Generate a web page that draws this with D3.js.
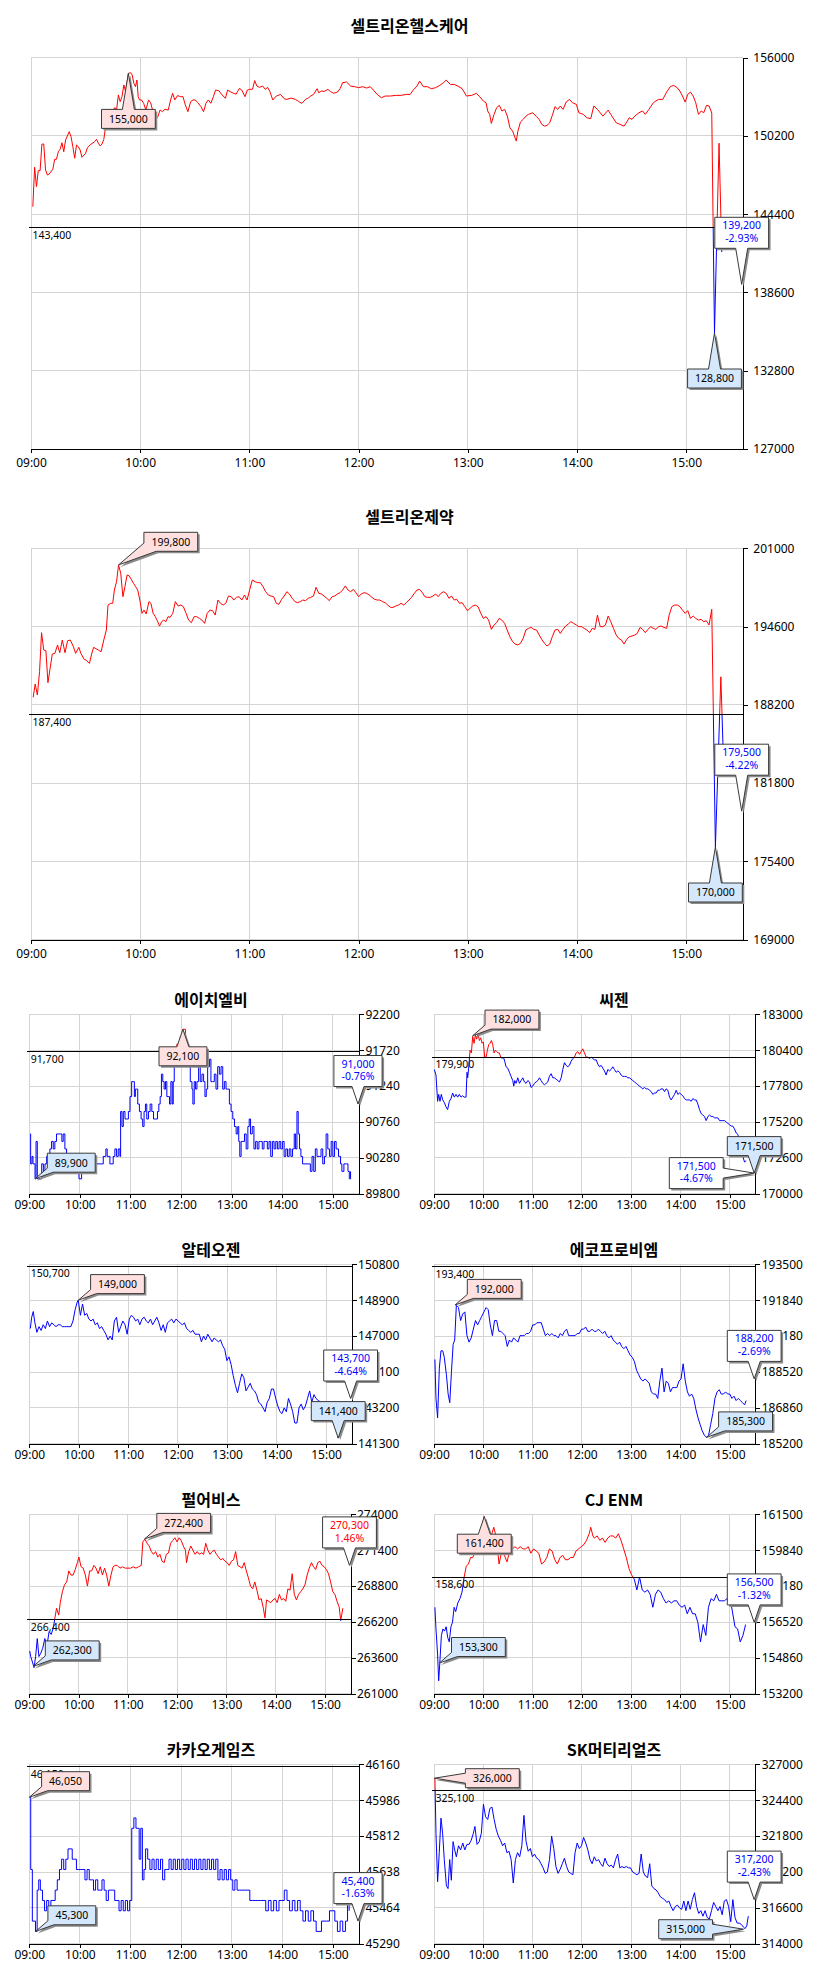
<!DOCTYPE html>
<html>
<head>
<meta charset="utf-8">
<script src="https://cdn.jsdelivr.net/npm/d3@7"></script>
<style>
  body { margin: 0; background: #fff; }
  svg text { font-family: "Noto Sans", sans-serif; }
  .title { font-family: "Noto Sans CJK KR", sans-serif; font-weight: bold; font-size: 16px; }
</style>
</head>
<body>
<svg id="chart" width="833" height="1970"></svg>
<script>
// x axis: minutes after 09:00, right edge of the plot is 15:31
var hourLabels = ["09:00", "10:00", "11:00", "12:00", "13:00", "14:00", "15:00"];
var sessionEnd = 391;

var names = ["셀트리온헬스케어", "셀트리온제약", "에이치엘비", "씨젠", "알테오젠", "에코프로비엠", "펄어비스", "CJ ENM", "카카오게임즈", "SK머티리얼즈"];
var prevClose = [143400, 187400, 91700, 179900, 150700, 193400, 266400, 158600, 46150, 325100];
var closePrice = [139200, 179500, 91000, 171500, 143700, 188200, 270300, 156500, 45400, 317200];
var closePct = ["-2.93%", "-4.22%", "-0.76%", "-4.67%", "-4.64%", "-2.69%", "1.46%", "-1.32%", "-1.63%", "-2.43%"];

// callouts: where the pointer touches the line [minute, price], and the printed value
var highTip = [[53.5, 154840], [48.1, 199640], [182.2, 92000], [47.1, 181450], [59.4, 148900], [25.6, 191620], [140.2, 272210], [61.2, 161390], [0, 46000], [0.5, 325990]];
var highLabel = [155000, 199800, 92100, 182000, 149000, 192000, 272400, 161400, 46050, 326000];
var lowTip = [[375.5, 135600], [376, 176580], [6.8, 90000], [391, 171500], [374.8, 141600], [331.5, 185490], [4.5, 262980], [6.3, 154620], [7.5, 45350], [376.8, 315060]];
var lowLabel = [128800, 170000, 89900, 171500, 141400, 185300, 262300, 153300, 45300, 315000];

var yTicks = [
  [127000, 132800, 138600, 144400, 150200, 156000],
  [169000, 175400, 181800, 188200, 194600, 201000],
  [89800, 90280, 90760, 91240, 91720, 92200],
  [170000, 172600, 175200, 177800, 180400, 183000],
  [141300, 143200, 145100, 147000, 148900, 150800],
  [185200, 186860, 188520, 190180, 191840, 193500],
  [261000, 263600, 266200, 268800, 271400, 274000],
  [153200, 154860, 156520, 158180, 159840, 161500],
  [45290, 45464, 45638, 45812, 45986, 46160],
  [314000, 316600, 319200, 321800, 324400, 327000]
];

// intraday prices [minute, price]
var hcPrice = [[1,144960],[2,147880],[3,146440],[4,147630],[5,147630],[6,149600],[7,149600],[8,147680],[9,147310],[10,147380],[12,147730],[13,148470],[14,148470],[15,149030],[16,149210],[17,149700],[18,149030],[19,149900],[21,150520],[22,150150],[23,149400],[24,148550],[25,149530],[26,149400],[27,149160],[28,148620],[30,148910],[31,149330],[32,149460],[33,149600],[35,149780],[36,149950],[37,149660],[38,149460],[39,149600],[40,149950],[41,150890],[42,151630],[44,151900],[46,152300],[47,152120],[48,153240],[49,152740],[50,153110],[51,153980],[52,153480],[53.5,154840],[54.7,154890],[55.6,154720],[56.5,154100],[57.4,153850],[58.2,154350],[58.9,153110],[59.6,152870],[60.7,152870],[61.9,152620],[63.1,152120],[64.6,152870],[65.7,152670],[66.8,152120],[68.2,151380],[69.7,151630],[70.9,152120],[72.2,152000],[73.6,152180],[75.4,152120],[76.7,152870],[77.8,153360],[79,152870],[80.5,153190],[82.3,153110],[83.5,153110],[84.8,152500],[86.2,152000],[87.7,152740],[89,152870],[90.2,152870],[91.6,152670],[93.4,152370],[94.8,152000],[96.1,152620],[97.4,152870],[98.8,152620],[100.2,153110],[101.4,153600],[103.2,153550],[105,153240],[106.8,152990],[108,153600],[109.5,153480],[111.3,153360],[112.7,153300],[114.5,153730],[115.8,153600],[117.6,153110],[118.8,153600],[120.2,153660],[121.7,153660],[122.9,154300],[124.1,153900],[125.5,153800],[127.3,153900],[128.7,153660],[130,153800],[131.3,153480],[132.8,152870],[134.8,153160],[137.1,153280],[139.1,152960],[140.6,152910],[142.9,153010],[145.3,152910],[147,152760],[148.8,152610],[150.8,152910],[152.3,153010],[153.7,153160],[155.2,153280],[157.2,153700],[158.1,153400],[159.6,153530],[161,153500],[163.1,153650],[164.5,153500],[166.3,153360],[168.3,153450],[169.8,153700],[171.2,154150],[173.3,154200],[175.6,153900],[177.9,153850],[180,153780],[182.3,153850],[184.4,153750],[186.4,153850],[188.1,153600],[190.2,153280],[192.5,153030],[194.6,153160],[197.5,153160],[200.4,153210],[203.3,153210],[206.2,153280],[208.3,153280],[210,153600],[212.1,153900],[213.5,154270],[215.6,153850],[217.9,153850],[219.9,153700],[222.3,153780],[224.6,153950],[226.6,154150],[228.1,154340],[230.4,154020],[232.5,154020],[234.5,153900],[236.9,153700],[239.2,153160],[242.1,153210],[244.7,153360],[246.5,153110],[248.5,152790],[250,152660],[250.9,152050],[252,151800],[252.9,151130],[254.4,151800],[255.8,152290],[257.3,152470],[258.7,152050],[260.2,152170],[261.7,151670],[263.1,150810],[264.6,150560],[266.6,149820],[267.5,150560],[268.9,151230],[270.4,151430],[271.9,151670],[273.3,151800],[275.7,151920],[277.7,151630],[279.2,151430],[280.6,151060],[282.1,150930],[283.5,150980],[285,151180],[286.4,151720],[287.9,152370],[289.4,152170],[290.8,152420],[292.3,152170],[294,152710],[295.8,152910],[297.5,152660],[299.6,152540],[301,151920],[303.4,151800],[305.4,151550],[307.5,151480],[309.2,152420],[311.2,152170],[314.2,151670],[317.1,152120],[318.5,151800],[321.5,151180],[323.5,151060],[325.8,150930],[327.3,151230],[328.7,151550],[330.2,151430],[331.7,151670],[334,151920],[336,152050],[337.5,151800],[339.5,152170],[341.9,152660],[343.3,152790],[344.8,152910],[347.1,152910],[349.2,153450],[351.2,153850],[353,153950],[355,153780],[356.5,153530],[357.9,153160],[359.4,152710],[360.8,153280],[362.3,153450],[363.8,153160],[365.2,152660],[366.7,151800],[368.2,152050],[369.6,151920],[371.1,152470],[372.5,152420],[373.4,152120],[374,151900],[375.5,135600],[378,149660],[379.5,141600]];

var ctPrice = [[1.2,188810],[2.3,189900],[3.5,189000],[4.7,190910],[5.8,194100],[7,192680],[8.2,192620],[9.3,190010],[10.5,191180],[11.7,192350],[13.1,192410],[14.6,193090],[15.8,192460],[17.2,193500],[18.7,192460],[20.1,193440],[21.6,193500],[23.3,192950],[24.5,192410],[26.3,192900],[27.4,192410],[29.2,191920],[30.3,191860],[32.1,191590],[33.3,192350],[34.4,192900],[37,192680],[38.5,192540],[40,193500],[41.4,194320],[42.3,196360],[43.8,196500],[44.9,196500],[45.8,197590],[47,198270],[48.1,199640],[49.3,198950],[50.5,197040],[51.6,197860],[52.8,198820],[54,198740],[55.1,198460],[56.3,198140],[57.5,197860],[58.6,197590],[59.8,196770],[61,195680],[62.1,195950],[63.3,195630],[64.8,196640],[65.9,196500],[67.1,195680],[68.3,195410],[69.4,195080],[70.6,194640],[71.8,195000],[72.9,195130],[74.1,195000],[75.3,195410],[76.4,195350],[77.9,195680],[79.3,196640],[80.8,196280],[82.3,196360],[83.7,196230],[85.2,195680],[86.6,195130],[88.1,194920],[89.6,195410],[91,195410],[92.5,195270],[93.9,195130],[95.4,194860],[96.8,195680],[98.3,195950],[99.8,195900],[101.2,195540],[102.7,196770],[104.1,196500],[105.6,196360],[107,196500],[108.5,197100],[110,197040],[111.4,196770],[112.9,196990],[114.3,197040],[115.8,196770],[117.3,197180],[118.7,196770],[120.2,197640],[121.6,198410],[123.1,198270],[124.6,198190],[126,198190],[127.5,197860],[128.9,197450],[130.4,197180],[131.8,197100],[133.3,197040],[134.8,196500],[136.2,196420],[137.7,196830],[139.1,197100],[140.6,197450],[142,197260],[143.5,196910],[145,196640],[146.4,196550],[147.9,196640],[149.3,196770],[150.8,196720],[152.3,196910],[153.7,196990],[155.2,197100],[156.6,197810],[158.1,197320],[159.6,197260],[161,197100],[162.5,196910],[163.9,196720],[165.4,197040],[166.9,197100],[168.3,197260],[169.8,197370],[171.2,197590],[172.7,197920],[174.1,197590],[175.6,197450],[177.1,197640],[178.5,197370],[180,197040],[181.4,197260],[182.9,197370],[184.4,197320],[185.8,197180],[187.3,196990],[188.7,196830],[190.2,196770],[191.6,196770],[193.1,196640],[194.6,196550],[196,196360],[197.5,196170],[198.9,196170],[200.4,196280],[201.9,196360],[203.3,196500],[204.8,196360],[206.2,196550],[207.7,196770],[209.1,196990],[210.6,197320],[212.1,197590],[213.5,197640],[215,197370],[216.4,197040],[217.9,196990],[219.4,196990],[220.8,197100],[222.3,197260],[223.7,197040],[225.2,197320],[226.7,197450],[228.1,197320],[229.6,196910],[231,197100],[232.5,196770],[233.9,196830],[235.4,196500],[236.9,196550],[238.3,196230],[239.8,195900],[241.2,196090],[242.7,196280],[244.1,196360],[245.6,196230],[247.1,195680],[248.5,195270],[250,195410],[251.4,195130],[252.9,194370],[254.4,194730],[255.8,194920],[257.3,195270],[258.7,195130],[260.2,194860],[261.6,194320],[263.1,193770],[264.6,193360],[266,193170],[267.5,193090],[268.9,193230],[270.4,193630],[271.9,194320],[273.3,194450],[274.8,194530],[276.2,194370],[277.7,194320],[279.2,193910],[280.6,193550],[282.1,193230],[283.5,193010],[285,193170],[286.4,193770],[287.9,194320],[289.4,194370],[290.8,194040],[292.3,194370],[293.7,194640],[295.2,194810],[296.6,195000],[298.1,194860],[299.6,194730],[301,194590],[302.5,194590],[303.9,194450],[305.4,194320],[306.9,194100],[308.3,194450],[309.8,194370],[311.2,195540],[312.7,194590],[314.2,194590],[315.6,194730],[317.1,195460],[318.5,195000],[320,194450],[321.5,193910],[322.9,193630],[324.4,193500],[325.8,193170],[327.3,193550],[328.7,193770],[330.2,193830],[331.7,193910],[333.1,194040],[334.6,194530],[336,194370],[337.5,194100],[339,194370],[340.4,194590],[341.9,194450],[343.3,194370],[344.8,194590],[346.2,194640],[347.7,194530],[349.2,194450],[350.6,195540],[352.1,196230],[353.5,196360],[355,196360],[356.5,196230],[357.9,195950],[359.4,195680],[360.8,195900],[362.3,195270],[363.8,195460],[365.2,195270],[366.7,195130],[368.1,195190],[369.6,195000],[371,195080],[372.5,194730],[374,196010],[376,176580],[379,190490],[380.5,183260]];

var hlbPrice = [[0.8,90600],[1.6,90200],[3.2,90300],[4.4,90200],[6.8,90000],[8,90500],[9.5,90000],[11.1,90000],[12.7,90000],[14.7,90200],[16.7,90100],[18.6,90200],[20.6,90300],[22.9,90300],[24.4,90400],[26.4,90500],[28.4,90400],[30.3,90500],[32.3,90600],[34.3,90600],[37,90600],[38.6,90500],[40.2,90600],[42.2,90400],[44.2,90300],[50,90200],[56,90200],[58.9,90000],[62,90200],[68,90200],[76,90300],[79.8,90200],[83.7,90200],[87.7,90300],[90.8,90400],[92.4,90300],[95.6,90200],[99.5,90300],[101.5,90400],[103.5,90300],[105.5,90400],[107.5,90300],[108.3,90900],[109.9,90700],[111.5,90900],[113.5,90800],[115.5,90800],[117.5,90900],[119.4,91100],[121.4,91300],[123.4,91300],[124.6,91100],[125.8,91200],[127.4,91200],[128.6,91000],[130.6,90900],[132.6,90800],[134.5,90700],[136.1,90900],[137.7,91000],[139.3,90800],[141.3,90900],[143.3,91000],[145.3,90900],[147.3,90800],[149.6,90800],[152,90900],[153.6,91000],[155.2,91100],[156.7,91400],[158.3,91300],[159.9,91200],[161.5,91300],[163.1,91100],[164.7,91100],[166.3,91000],[167.9,91300],[169.5,91000],[170.7,91300],[171.9,91500],[173,91700],[175,91800],[179,91900],[182.2,92000],[185.3,91800],[188.9,91600],[190.9,91300],[192.9,91200],[194,91000],[195.6,91300],[197.2,91200],[198.8,91300],[200.8,91500],[202.7,91300],[204.7,91400],[206.7,91300],[208.3,91100],[209.9,91200],[211.5,91500],[213.8,91600],[215.4,91300],[217.4,91300],[219.4,91400],[221.4,91200],[223.4,91500],[225.4,91400],[227.4,91500],[229.4,91200],[231.3,91300],[233.3,91200],[235.3,91200],[237.3,91000],[239.3,90900],[241.3,90800],[243.3,90700],[245.3,90600],[247.2,90700],[248.4,90500],[249.6,90300],[251.2,90500],[253.2,90500],[255.2,90600],[257.2,90400],[259.2,90700],[260.8,90800],[262.4,90600],[264.4,90700],[266.4,90400],[268.4,90500],[270.3,90400],[272.3,90500],[274.3,90500],[276.3,90400],[278.3,90500],[280.3,90500],[282.3,90400],[284.3,90500],[286.3,90300],[288.3,90500],[290.3,90400],[292.3,90500],[294.2,90400],[296.2,90500],[298.2,90400],[300.2,90500],[302.2,90300],[304.2,90400],[306.2,90300],[308.2,90400],[310.2,90300],[312.2,90400],[314.2,90600],[315.8,90400],[317.4,90900],[318.9,90600],[320.5,90400],[322.1,90300],[324.1,90200],[328.1,90200],[330.9,90200],[333.3,90100],[335.3,90300],[337.3,90100],[339.2,90400],[341.2,90300],[344,90300],[346,90400],[348,90200],[350,90300],[352,90600],[354,90400],[356,90300],[358,90500],[360,90300],[362,90500],[363.9,90400],[366.7,90300],[369.1,90200],[370.7,90100],[373.1,90200],[375.9,90200],[377.9,90100],[379.5,90000],[381,90100]];

var sgPrice = [[0.4,179000],[2.4,178600],[4.4,176700],[5.7,177200],[7.3,176700],[8.9,177200],[10.6,176800],[12.6,176600],[14.6,176300],[16.6,176100],[18.7,176700],[20.7,176900],[22.7,177300],[24.7,177000],[26.8,177200],[28.8,177000],[30.8,177200],[32.9,177000],[34.9,177100],[36.9,177000],[39,177000],[40.2,178800],[41,178400],[42.2,179100],[43.9,180400],[45.5,180200],[47.1,181400],[48.7,180900],[50.4,181500],[52,181200],[53.6,181600],[55.3,181100],[56.9,181300],[58.5,180900],[60.1,181000],[61.7,179900],[63.4,179900],[65,180400],[66.6,180800],[68.2,180900],[69.9,181100],[71.5,180800],[73.1,180200],[74.7,180400],[76.4,180300],[78,180200],[79.6,180200],[81.2,179900],[82.9,179800],[84.5,179900],[86.1,179600],[87.7,179200],[89.8,179100],[91.8,178800],[93.8,178500],[95.9,178200],[97.1,177800],[98.3,178200],[99.9,178000],[102,178400],[104,178000],[106,178200],[108.1,178400],[110.1,178100],[112.1,178000],[114.2,178200],[116.2,178100],[118.2,177700],[120.2,177800],[122.3,178000],[124.3,178100],[126.3,178200],[128.4,178400],[130.4,178200],[132.4,178000],[134.5,177900],[136.5,178000],[138.5,178100],[140.5,178500],[142.6,178700],[144.6,178400],[146.6,178400],[148.7,178300],[150.7,178200],[152.7,178100],[154.8,178400],[156.8,179000],[158.8,179500],[160.8,179300],[162.9,179200],[164.9,179300],[166.9,179600],[169,179800],[171,179900],[173,180200],[175,180300],[177.1,180100],[179.1,180300],[181.1,180500],[183.2,180200],[185.2,179900],[187.2,179900],[189.3,179800],[191.3,179900],[193.3,179800],[195.3,179700],[197.4,179700],[199.4,179400],[201.4,179200],[203.5,179300],[205.5,179100],[207.5,178900],[209.6,178600],[211.6,179000],[213.6,178900],[215.6,179000],[217.7,179200],[219.7,179000],[221.7,178800],[223.8,178900],[225.8,178800],[227.8,178600],[229.9,178500],[231.9,178500],[233.9,178500],[235.9,178400],[238,178400],[240,178300],[242,178200],[244.1,178100],[246.1,178000],[248.1,177900],[250.1,177800],[252.2,177700],[254.2,177600],[256.2,177700],[258.3,177600],[260.3,177600],[262.3,177500],[264.4,177400],[266.4,177200],[268.4,177300],[270.4,177300],[272.5,177500],[274.5,177500],[276.5,177600],[278.6,177600],[280.6,177400],[282.6,177600],[284.7,177500],[286.7,177000],[288.7,176800],[290.7,177000],[292.8,177200],[294.8,177500],[296.8,177200],[298.9,177300],[300.9,177200],[302.9,177100],[305,176900],[307,176800],[309,176800],[311,176800],[313.1,176700],[315.1,176900],[317.1,176800],[319.2,176800],[321.2,176500],[323.2,176100],[325.3,175800],[327.3,175700],[329.3,175600],[331.3,175300],[333.4,175600],[335.4,175700],[337.4,175600],[339.5,175600],[341.5,175500],[343.5,175500],[345.5,175500],[347.6,175300],[349.6,175300],[351.6,175300],[353.7,175300],[355.7,175200],[357.7,175100],[359.8,175000],[361.8,174900],[363.8,174900],[365.8,174700],[367.9,174400],[369.9,174300],[371.9,173800],[373.9,173400],[376,172700],[378,172300],[380,172400]];

var atPrice = [[1.2,147400],[2.9,148000],[4.8,148300],[6.8,147700],[9.2,147200],[11.8,147500],[14.3,147300],[16.9,147600],[19.5,147400],[22,147800],[24.6,147500],[27.2,147700],[29.8,147600],[32.4,147500],[35,147600],[37.5,147600],[40.1,147500],[42.7,147500],[45.3,147500],[47.9,147500],[50.4,147500],[53,147800],[55.6,148400],[58.1,148800],[59.4,148900],[62,148100],[64.6,148700],[67.2,148100],[69.7,148200],[72.3,147900],[74.9,147800],[77.4,147900],[80,147600],[82.6,147700],[85.2,147400],[87.8,147500],[90.3,147300],[92.9,147100],[95.5,146800],[98.1,147000],[100.6,146800],[103.2,147800],[105.8,148000],[108.4,147200],[110.9,147500],[113.5,147800],[116.1,147600],[118.7,147100],[121.3,147900],[123.8,148100],[126.4,148000],[129,147800],[131.6,147900],[134.1,147600],[136.7,147900],[139.3,148000],[141.9,147800],[144.4,147700],[147,147900],[149.6,147600],[152.2,147800],[154.7,148000],[157.3,147700],[159.9,147300],[162.5,147600],[165,147200],[167.6,147700],[170.2,147800],[172.7,147900],[175.3,147700],[177.9,147900],[180.5,147800],[183,147700],[185.6,147600],[188.2,147700],[190.8,147400],[193.3,147300],[195.9,147200],[198.5,147300],[201.1,147100],[203.6,147100],[206.2,147100],[208.8,146700],[211.4,147000],[213.9,146800],[216.5,147100],[219.1,146900],[221.7,146700],[224.2,146900],[226.8,146800],[229.4,146700],[232,146800],[234.5,146500],[237.1,146300],[239.7,145700],[242.3,145900],[244.8,145500],[247.4,144900],[250,144400],[252.6,144000],[255.1,144500],[257.7,145000],[260.3,144800],[262.9,144100],[265.4,144300],[268,144500],[270.6,144200],[273.2,144100],[275.7,143900],[278.3,143500],[280.9,143400],[283.5,143200],[286,143000],[288.6,143500],[291.2,143700],[293.8,144200],[296.3,144200],[298.9,143700],[301.5,143300],[304.1,143000],[306.6,142900],[309.2,143200],[311.8,143000],[314.4,143700],[316.9,143400],[319.5,143000],[322.1,142400],[324.7,142400],[327.2,143200],[329.8,143400],[332.4,143100],[335,143300],[337.5,143700],[340.1,144100],[342.7,143500],[345.3,143900],[347.8,143700],[350.4,143600],[360,143300],[370,143100],[374.8,141600]];

var epPrice = [[1.1,189100],[2.4,187300],[4.4,186400],[6.5,188700],[8.5,189500],[10.6,189500],[12.5,189200],[15.1,188400],[17.2,187500],[19.2,187100],[21.2,188500],[23.3,189800],[25.2,190000],[27.2,191600],[29.8,191500],[32.4,190900],[35,191200],[37.6,191300],[40.1,190200],[42.7,189900],[45.3,190100],[47.9,190500],[50.5,190900],[53.1,190700],[55.6,190900],[58.2,191100],[60.8,191300],[63.4,191500],[66,191400],[68.5,190700],[71.1,190200],[73.7,190900],[76.3,190900],[78.9,190400],[81.4,190400],[84,190300],[86.6,190200],[89.2,189700],[91.8,190000],[94.4,189900],[96.9,190100],[99.5,190000],[102.1,189900],[104.7,190200],[107.3,190200],[109.8,190200],[112.4,190300],[115,190300],[117.6,190400],[120.2,190700],[122.8,190700],[125.3,190800],[127.9,190800],[130.5,190800],[133.1,190500],[135.6,190200],[138.2,190300],[140.8,190200],[143.4,190300],[146,190200],[148.5,190200],[151.1,190100],[153.7,190300],[156.3,190200],[158.9,190400],[161.4,190500],[164,190200],[166.6,190200],[169.2,190200],[171.8,190200],[174.3,190300],[176.9,190300],[179.5,190500],[182.1,190500],[184.6,190600],[187.2,190400],[189.8,190400],[192.4,190500],[195,190400],[197.5,190400],[200.1,190500],[202.7,190400],[205.3,190300],[207.9,190400],[210.4,190200],[213,190100],[215.6,190200],[218.2,190000],[220.8,189900],[223.3,189800],[225.9,189900],[228.5,189700],[231.1,189600],[233.7,189700],[236.2,189500],[238.8,189300],[241.4,189200],[244,189000],[246.6,188600],[249.1,188400],[251.7,188200],[254.3,188100],[256.9,188200],[259.5,188100],[262,188000],[264.6,187600],[267.2,187500],[269.8,187500],[272.4,187300],[274.9,188100],[277.5,188700],[280.1,187600],[282.7,188100],[285.3,188000],[287.8,187600],[290.4,187800],[293,187800],[295.6,187800],[298.2,188100],[300.7,188200],[303.3,188900],[305.9,188100],[308.5,187600],[311,187400],[313.6,187500],[316.2,187300],[318.8,186800],[321.4,186400],[323.9,186100],[326.5,185800],[329.1,185600],[331.7,185500],[334.3,185600],[336.8,186100],[339.4,186600],[342,187300],[344.6,187600],[347.2,187700],[349.7,187500],[352.3,187500],[354.9,187600],[357.5,187500],[360.1,187500],[362.6,187300],[365.2,187400],[367.8,187200],[370.4,187300],[373,187200],[375.5,187100],[378.1,187000],[380,187200]];

var paPrice = [[0.5,264100],[1.7,263700],[3.8,263300],[5.8,262900],[7.7,263700],[9.7,265000],[11.7,263700],[13.7,263900],[16.3,264300],[18.9,265000],[21.5,264500],[24.1,265500],[26.7,265300],[29.3,265800],[31.2,266500],[33.2,267200],[35.8,266700],[37.7,267600],[40.3,268400],[42.9,268900],[45.5,269100],[48.1,269900],[50.7,269600],[53.3,269600],[55.9,270000],[58.5,270500],[60.4,270900],[63,270200],[65.6,270100],[68.2,269600],[70.8,268800],[73.4,269900],[76,269900],[78.6,270300],[81.2,270100],[83.8,269700],[86.4,270200],[89,269600],[91.6,270100],[94.2,269600],[96.8,268800],[99.4,269600],[102,270200],[104.5,270300],[107.1,270300],[110.4,270100],[113.6,270200],[116.8,270100],[120.1,270100],[123.3,270100],[126.5,270200],[129.8,270100],[133,270200],[136.3,270300],[138.2,272000],[140.8,272200],[143.4,271900],[146,271700],[148.6,271300],[151.2,271100],[153.8,271300],[156.4,270900],[159,271100],[161.6,270600],[164.2,270500],[166.8,271100],[169.4,271200],[172,271900],[174.6,272100],[177.2,272300],[179.8,272000],[182.4,272300],[185,272100],[187.5,271700],[190.1,271400],[191.4,270500],[194,271300],[196.6,271700],[199.2,271400],[201.8,271100],[204.4,271300],[207,271100],[209.6,271200],[212.2,271100],[214.8,271900],[217.4,271400],[220,271100],[222.6,271300],[225.2,271400],[227.8,271100],[230.4,270900],[233,270700],[235.6,270800],[238.2,270600],[240.8,270500],[243.4,270300],[246,270600],[248.6,270700],[251.2,271300],[253.8,270300],[256.4,270200],[259,270100],[261.6,270500],[264.2,269900],[266.7,269400],[269.3,268800],[271.9,268600],[274.5,269100],[277.1,268500],[279.7,267800],[282.3,267900],[284.9,267200],[286.9,266500],[288.8,267800],[291.4,267700],[294,267600],[296.6,267800],[299.2,267900],[301.8,267600],[304.4,268200],[307,267800],[309.6,267900],[312.2,267700],[314.8,268600],[317.4,268500],[320,269700],[322.6,268200],[325.2,267800],[327.8,268200],[330.4,268400],[333,268600],[335.6,268900],[338.2,269600],[340.8,270100],[343.4,270500],[346,270200],[348.6,270000],[351.2,270500],[353.8,270600],[356.4,270300],[359,270200],[361.6,270000],[364.2,269700],[366.8,269100],[369.4,268400],[372,268200],[374.6,267700],[377.2,267300],[379.1,266300],[381.7,267200]];

var cjPrice = [[1.1,157200],[2.4,156200],[4.4,155000],[5.7,153800],[7,154600],[9,155900],[10.9,156200],[12.8,156100],[14.8,156300],[16.7,155800],[18.6,155600],[20.6,156300],[22.5,156500],[24.5,157200],[26.4,157000],[29,157400],[31.6,157600],[34.1,157900],[36.7,158600],[39.3,159100],[41.9,159200],[44.5,159500],[47.1,159500],[50.3,159800],[53.6,160200],[57.4,160800],[61.2,161400],[63.8,160600],[66.4,160900],[69.6,160500],[72.8,160900],[76,160400],[79.2,159200],[82.5,159800],[85.7,159600],[88.9,159300],[92.1,159800],[95.4,159900],[98.6,160000],[101.8,159900],[105,160000],[108.3,159900],[111.5,159900],[114.7,160000],[117.9,159700],[121.2,159900],[124.4,159800],[127.6,159700],[130.9,159200],[134.1,159300],[137.3,159500],[140.5,159900],[143.8,159800],[147,159400],[150.2,159200],[153.4,159500],[156.7,159600],[159.9,159400],[163.1,159400],[166.3,159500],[169.6,159500],[172.8,159800],[176,159900],[179.2,160000],[182.5,160100],[185.7,160300],[188.9,160600],[190.8,160900],[193.4,160500],[195.4,160400],[198.6,160500],[201.8,160300],[205,160400],[208.3,160200],[211.5,160400],[214.7,160500],[218,160500],[221.2,160400],[224.4,160600],[227.6,160300],[230.9,159900],[234.1,159500],[237.3,159000],[240.5,158700],[243.8,158500],[247,158000],[250.2,158600],[253.5,158000],[256.7,157900],[259.9,158000],[263.1,157800],[266.4,157200],[269.6,157800],[272.8,158000],[276,157900],[279.3,157600],[282.5,157400],[285.7,157500],[289,157400],[292.2,157500],[295.4,157500],[298.6,157300],[301.9,157200],[305.1,157300],[308.3,156900],[311.5,157200],[314.8,156900],[318,156900],[321.2,156500],[324.4,155600],[327.7,156400],[330.9,155900],[334.1,157200],[337.3,157600],[340.6,157500],[343.8,157800],[347,157500],[350.3,157500],[353.5,157500],[356.7,157600],[361.9,157300],[366.4,156300],[369.6,156200],[372.8,155600],[376.1,155900],[379.3,156400]];

var kgPrice = [[0.5,46000],[1.7,45650],[3.6,45400],[5.5,45400],[7.4,45350],[9.3,45550],[11.2,45600],[13.1,45550],[15.6,45500],[18.1,45450],[20.6,45500],[23.1,45450],[25.6,45500],[28.1,45500],[30.7,45550],[33.2,45600],[35.8,45650],[38.3,45700],[40.8,45650],[43.3,45700],[45.9,45750],[48.4,45750],[50.9,45700],[53.4,45700],[55.9,45650],[58.5,45650],[61,45650],[63.5,45650],[66,45600],[68.5,45650],[71.1,45600],[73.6,45600],[76.1,45550],[78.6,45600],[81.2,45550],[83.7,45550],[86.2,45600],[88.7,45550],[91.2,45500],[93.8,45550],[96.3,45550],[98.8,45550],[101.3,45500],[103.9,45500],[106.4,45450],[108.9,45500],[111.4,45450],[113.9,45500],[116.5,45450],[119,45500],[121.5,45850],[124,45900],[126.5,45850],[129.1,45850],[130.3,45700],[132.2,45850],[134.1,45600],[136,45650],[137.9,45750],[140.4,45700],[143,45650],[145.5,45700],[148,45650],[150.5,45700],[153,45650],[155.6,45700],[158.1,45600],[160.6,45650],[163.1,45650],[165.7,45700],[168.2,45650],[170.7,45700],[173.2,45650],[175.7,45700],[178.3,45650],[180.8,45700],[183.3,45650],[185.8,45700],[188.4,45650],[190.9,45700],[193.4,45650],[195.9,45700],[198.4,45650],[201,45700],[203.5,45650],[206,45700],[208.5,45650],[211,45700],[213.6,45650],[216.1,45700],[218.6,45650],[221.1,45700],[223.7,45600],[226.2,45650],[228.7,45600],[231.2,45650],[233.7,45600],[236.3,45650],[238.8,45600],[241.3,45550],[243.8,45600],[246.4,45550],[248.9,45550],[252,45550],[255.2,45550],[258.3,45550],[261.5,45500],[264.6,45500],[267.8,45500],[270.9,45500],[274.1,45500],[277.2,45500],[280.4,45450],[283.5,45500],[286.7,45450],[289.8,45500],[293,45450],[296.1,45500],[299.3,45500],[302.4,45550],[305.6,45500],[308.7,45450],[311.9,45500],[315,45450],[318.2,45500],[321.3,45450],[324.5,45400],[327.6,45450],[330.8,45400],[333.9,45450],[337.1,45400],[340.2,45350],[343.4,45350],[346.5,45400],[349.7,45400],[352.8,45400],[356,45450],[359.1,45450],[362.3,45400],[365.4,45350],[368.6,45400],[371.7,45350],[374.9,45400],[377.4,45500],[379.3,45450]];

var smPrice = [[1.1,326000],[2.4,322000],[4.4,318500],[6.4,320600],[8.5,323100],[10.5,322000],[12.5,320100],[15.1,318200],[17.1,318000],[19.1,320100],[21.1,318600],[23.2,321400],[25.2,320800],[27.2,320300],[29.8,321100],[32.4,320800],[35,321300],[37.5,320800],[40.1,321200],[42.7,321200],[45.3,321500],[47.9,322000],[49.8,322500],[52.4,321200],[55,321400],[57.6,322000],[60.2,324100],[62.8,323200],[65.4,323000],[68,323800],[70.6,323900],[73.2,323000],[75.7,322300],[78.3,321800],[80.9,321500],[83.5,321100],[86.1,321300],[88.7,320600],[91.3,320700],[93.9,320100],[96.5,318400],[99.1,320100],[101.7,320600],[104.3,320300],[106.9,321100],[109.5,323300],[112.1,321400],[114.7,320700],[117.3,320900],[119.8,320300],[122.4,320500],[125,320200],[127.6,320100],[130.2,319800],[132.8,319500],[135.4,319100],[138,319200],[140.6,320100],[143.2,321800],[145.8,320900],[148.4,319600],[151,319100],[153.6,319400],[156.2,319800],[158.8,320200],[161.4,319600],[164,319200],[166.5,319100],[169.1,319000],[171.7,320600],[174.3,321300],[176.9,320900],[179.5,321100],[182.1,321700],[184.7,321300],[187.3,320800],[189.9,320100],[192.5,319800],[195.1,320300],[197.7,320000],[200.3,320100],[202.9,319800],[205.5,319600],[208.1,320200],[210.7,319800],[213.3,319600],[215.8,319700],[218.4,319500],[221,320100],[223.6,320500],[226.2,319500],[228.8,319600],[231.4,319500],[234,319600],[236.6,319500],[239.2,319500],[241.8,319200],[244.4,319100],[247,319000],[249.6,319100],[252.2,320500],[254.8,319200],[257.4,318900],[260,318800],[262.6,319800],[265.1,318200],[267.7,318000],[270.3,317900],[272.9,317700],[275.5,317400],[278.1,317300],[280.7,317200],[283.3,317000],[285.9,317100],[288.5,316700],[291.1,316400],[293.7,316700],[296.3,316800],[298.9,316600],[301.5,316500],[304.1,317100],[306.7,316400],[309.3,317100],[311.9,316500],[314.5,317200],[317.1,317700],[319.7,316700],[322.3,316200],[324.8,316400],[327.4,316000],[330,316400],[332.6,315900],[335.2,315800],[337.8,316400],[340.4,317000],[343,316700],[345.6,316400],[348.2,316700],[350.8,316100],[353.4,317100],[356,317200],[358.6,316700],[361.2,315600],[363.8,317200],[366.4,315900],[369,315500],[371.6,315500],[374.2,315400],[376.8,315200],[378.7,315100],[380.7,315300],[382.6,316000]];

var prices = [hcPrice, ctPrice, hlbPrice, sgPrice, atPrice, epPrice, paPrice, cjPrice, kgPrice, smPrice];

// where each panel sits on the page and where its callouts go
var BIG = 2.06;
var layout = [
  {x0: 31,   x1: 742.7, y0: 57.7,   y1: 449,    tx: 409.5, k: BIG, hi: "below",   lo: "below",   cur: "above"},
  {x0: 31,   x1: 742.7, y0: 548.3,  y1: 939.6,  tx: 409.5, k: BIG, hi: "upright", lo: "below",   cur: "above"},
  {x0: 29.3, x1: 359,   y0: 1014.3, y1: 1193.8, tx: 211,   k: 1,   hi: "below",   lo: "upright", cur: "above", step: true},
  {x0: 434,  x1: 755.2, y0: 1014.3, y1: 1193.8, tx: 614,   k: 1,   hi: "upright", lo: "above",   cur: "left"},
  {x0: 29.3, x1: 351.6, y0: 1264.3, y1: 1443.8, tx: 211,   k: 1,   hi: "upright", lo: "above",   cur: "above"},
  {x0: 434,  x1: 755.2, y0: 1264.3, y1: 1443.8, tx: 614,   k: 1,   hi: "upright", lo: "upright", cur: "above"},
  {x0: 29.3, x1: 350.5, y0: 1514.3, y1: 1693.8, tx: 211,   k: 1,   hi: "upright", lo: "upright", cur: "above"},
  {x0: 434,  x1: 755.2, y0: 1514.3, y1: 1693.8, tx: 614,   k: 1,   hi: "below",   lo: "upright", cur: "above"},
  {x0: 29.3, x1: 359,   y0: 1764.3, y1: 1943.8, tx: 211,   k: 1,   hi: "upright", lo: "upright", cur: "above", step: true},
  {x0: 434,  x1: 755.2, y0: 1764.3, y1: 1943.8, tx: 614,   k: 1,   hi: "right",   lo: "left",    cur: "above"}
];

var svg = d3.select("#chart");
var fmt = d3.format(",");

// box with a pointer, grey drop shadow behind it
function callout(g, tx, ty, lines, color, fill, place, k) {
  var c = g.append("g");
  var t = c.append("text").attr("fill", color).attr("text-anchor", "middle").style("font-size", "10.5px");
  lines.forEach(function(s, j) {
    t.append("tspan").attr("x", 0).attr("y", j * 12.7).text(s);
  });
  var w = t.node().getBBox().width + 15;
  var h = lines.length > 1 ? 31 : 19;
  var l, top;
  if (place === "below") { l = tx - w / 2; top = ty + 17.5 * k; }
  else if (place === "above") { l = tx - w / 2; top = ty - 17.5 * k - h; }
  else if (place === "upright") { l = tx + 12.3 * k; top = ty - 6.6 * k - h; }
  else if (place === "left") { l = tx - 31 - w; top = ty - h / 2; }
  else { l = tx + 31; top = ty - h / 2; }
  var r = l + w, b = top + h, cx = l + w / 2, cy = top + h / 2;
  var pts;
  if (place === "below") pts = [[l, top], [cx - 6, top], [tx, ty], [cx + 6, top], [r, top], [r, b], [l, b]];
  else if (place === "above") pts = [[l, top], [r, top], [r, b], [cx + 6, b], [tx, ty], [cx - 6, b], [l, b]];
  else if (place === "upright") pts = [[l, top], [r, top], [r, b], [l + 6 * k, b], [tx, ty], [l, b - 4 * k]];
  else if (place === "left") pts = [[l, top], [r, top], [r, cy - 5], [tx, ty], [r, cy + 5], [r, b], [l, b]];
  else pts = [[l, top], [r, top], [r, b], [l, b], [l, cy + 5], [tx, ty], [l, cy - 5]];
  var d = "M" + pts.map(function(p) { return p[0].toFixed(1) + "," + p[1].toFixed(1); }).join("L") + "Z";
  c.insert("path", "text").attr("d", d).attr("transform", "translate(2,2)").attr("fill", "#8c8c8c");
  c.insert("path", "text").attr("d", d).attr("fill", fill).attr("stroke", "#3a3a3a");
  t.attr("transform", "translate(" + cx + "," + (top + (h > 19 ? 12 : 13.3)) + ")");
}

names.forEach(function(name, i) {
  var L = layout[i];
  var big = L.k > 1;
  var yt = yTicks[i];
  var x = d3.scaleLinear().domain([0, sessionEnd]).range([L.x0, L.x1]);
  var y = d3.scaleLinear().domain([yt[0], yt[yt.length - 1]]).range([L.y1, L.y0]);
  var hourMins = hourLabels.map(function(d, j) { return j * 60; });
  var g = svg.append("g");

  g.append("text").attr("class", "title")
    .attr("x", L.tx).attr("y", L.y0 - (big ? 25.4 : 8.6))
    .attr("text-anchor", "middle").text(name);

  // grid
  g.append("g").selectAll("line").data(yt).join("line")
    .attr("x1", L.x0).attr("x2", L.x1)
    .attr("y1", function(d) { return y(d); }).attr("y2", function(d) { return y(d); })
    .attr("stroke", "#d4d4d4").attr("shape-rendering", "crispEdges");
  g.append("g").selectAll("line").data(hourMins).join("line")
    .attr("x1", function(d) { return x(d); }).attr("x2", function(d) { return x(d); })
    .attr("y1", L.y0).attr("y2", L.y1)
    .attr("stroke", "#d4d4d4").attr("shape-rendering", "crispEdges");

  // previous close label sits under the line
  var py = y(prevClose[i]);
  g.append("text").attr("x", L.x0 + 1.5).attr("y", py + 11.3)
    .style("font-size", "10.5px").attr("fill", "#000").text(fmt(prevClose[i]));

  // price line: red above previous close, blue below
  var upId = "up" + i, dnId = "dn" + i;
  var defs = g.append("defs");
  defs.append("clipPath").attr("id", upId).append("rect")
    .attr("x", L.x0 - 3).attr("y", L.y0 - 10).attr("width", L.x1 - L.x0 + 6).attr("height", py - L.y0 + 10);
  defs.append("clipPath").attr("id", dnId).append("rect")
    .attr("x", L.x0 - 3).attr("y", py).attr("width", L.x1 - L.x0 + 6).attr("height", L.y1 - py + 10);
  var line = d3.line()
    .x(function(d) { return x(d[0]); })
    .y(function(d) { return y(d[1]); })
    .curve(L.step ? d3.curveStepAfter : d3.curveLinear);
  g.append("path").datum(prices[i]).attr("d", line).attr("fill", "none")
    .attr("stroke", "#ff0000").attr("stroke-width", 1).attr("clip-path", "url(#" + upId + ")");
  g.append("path").datum(prices[i]).attr("d", line).attr("fill", "none")
    .attr("stroke", "#0000ff").attr("stroke-width", 1).attr("clip-path", "url(#" + dnId + ")");

  g.append("line").attr("x1", L.x0 - 2).attr("x2", L.x1).attr("y1", py).attr("y2", py)
    .attr("stroke", "#000").attr("shape-rendering", "crispEdges");

  // axes
  var yAxis = d3.axisRight(y).tickValues(yt).tickFormat(d3.format("d"))
    .tickSize(5).tickSizeOuter(0).tickPadding(big ? 5.6 : 1.5);
  var ya = g.append("g").attr("transform", "translate(" + L.x1 + ",0)").call(yAxis);
  var xAxis = d3.axisBottom(x).tickValues(hourMins)
    .tickFormat(function(d, j) { return hourLabels[j]; })
    .tickSize(4).tickSizeOuter(0).tickPadding(big ? 5.5 : 3.1);
  var xa = g.append("g").attr("transform", "translate(0," + L.y1 + ")").call(xAxis);
  [ya, xa].forEach(function(a) {
    a.attr("font-family", null).attr("font-size", null);
    a.selectAll("text").style("font-size", "12px").attr("fill", "#000");
    a.selectAll("path,line").attr("stroke", "#000").attr("shape-rendering", "crispEdges");
  });

  // callouts
  var hx = Math.min(x(highTip[i][0]), L.x1 - 1), hy = y(highTip[i][1]);
  callout(g, hx, hy, [fmt(highLabel[i])], "#000", "#ffe0e0", L.hi, L.k);
  var lx = Math.min(x(lowTip[i][0]), L.x1 - 1), ly = y(lowTip[i][1]);
  callout(g, lx, ly, [fmt(lowLabel[i])], "#000", "#d5e7fa", L.lo, L.k);
  var curColor = closePrice[i] < prevClose[i] ? "#0000ff" : "#ff0000";
  callout(g, L.x1 - 1, y(closePrice[i]), [fmt(closePrice[i]), closePct[i]], curColor, "#ffffff", L.cur, L.k);
});
</script>
</body>
</html>
